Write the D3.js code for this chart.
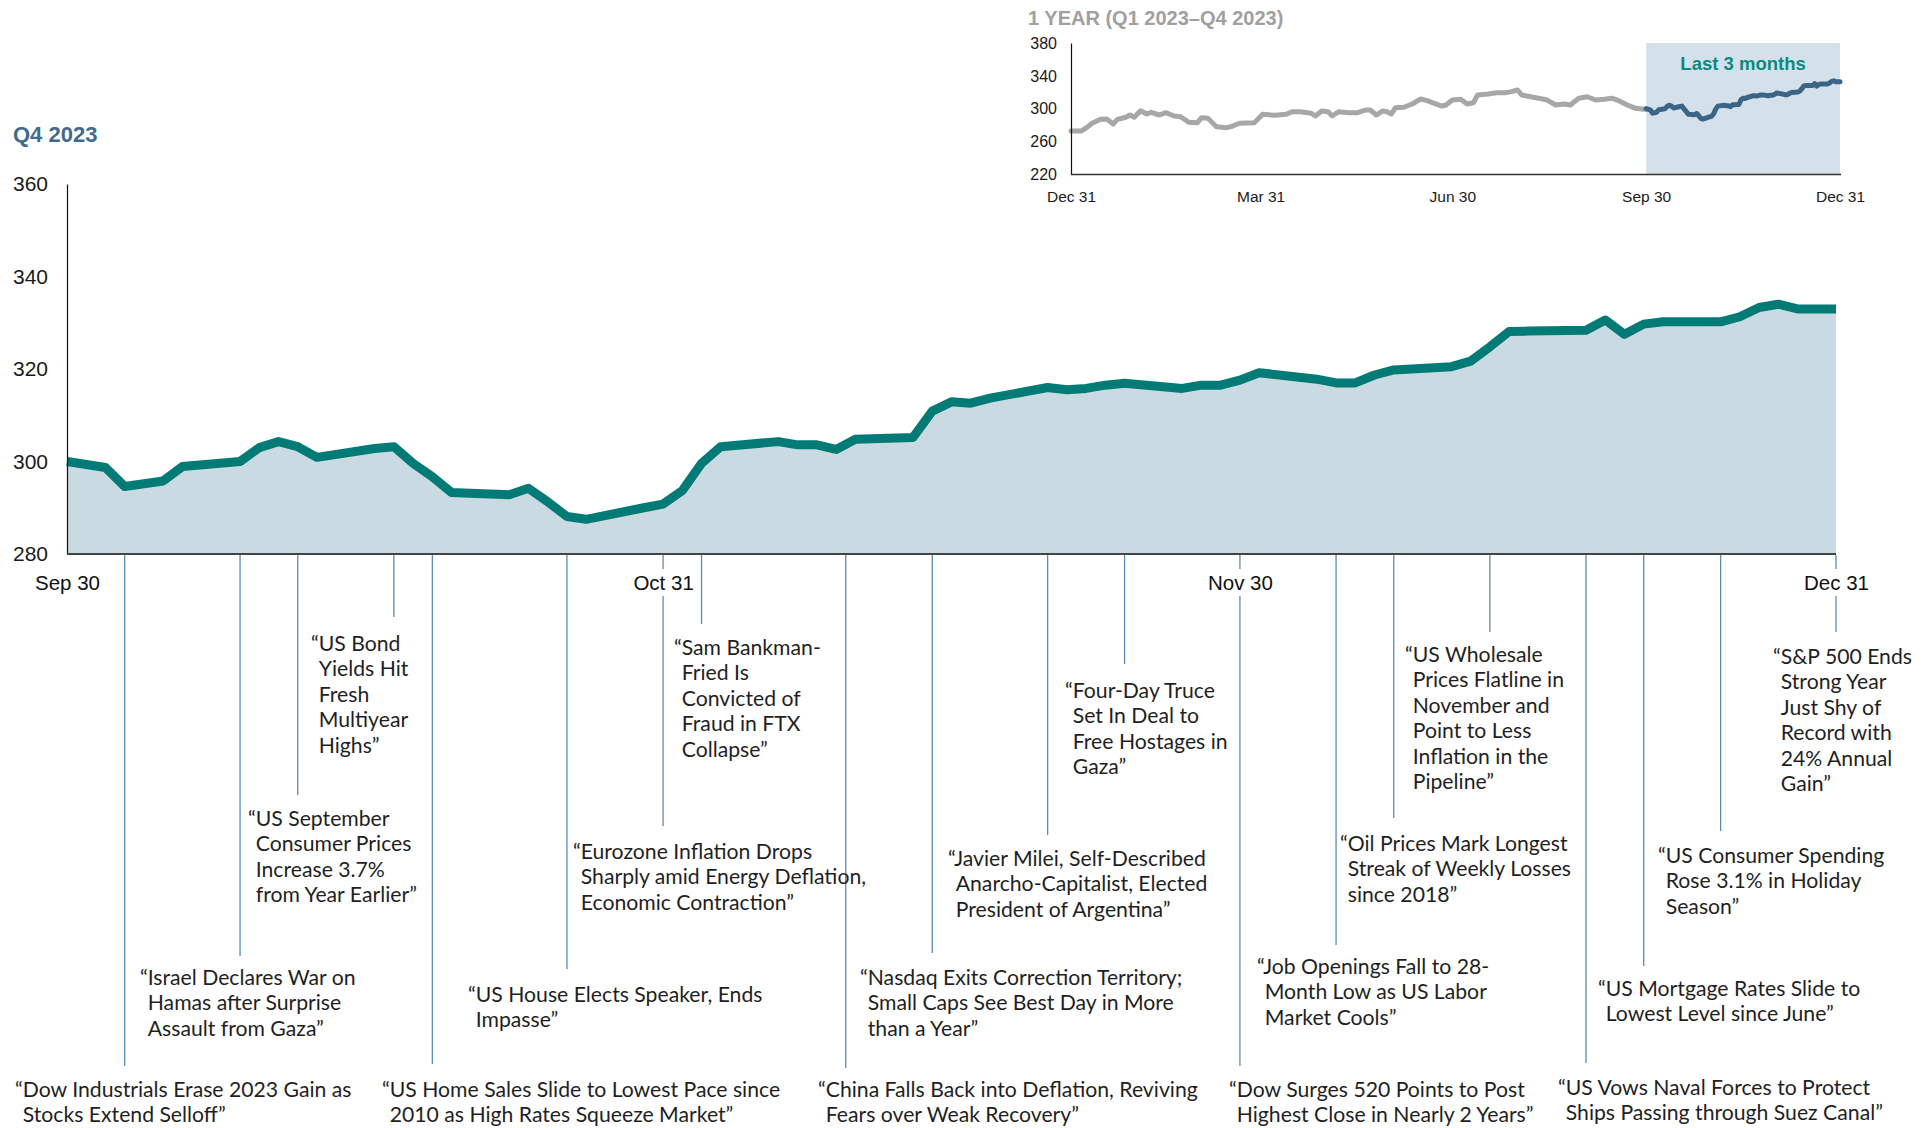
<!DOCTYPE html>
<html><head><meta charset="utf-8">
<script src="https://cdn.jsdelivr.net/npm/d3@7"></script>
<style>body{margin:0;background:#fff;} svg{display:block;}</style>
</head><body>
<svg id="c" width="1932" height="1128"></svg>
<script>
// ---------------- DATA ----------------
const q4Dates = ["2023-09-30","2023-10-02","2023-10-03","2023-10-04","2023-10-05","2023-10-06","2023-10-09","2023-10-10","2023-10-11","2023-10-12","2023-10-13","2023-10-16","2023-10-17","2023-10-18","2023-10-19","2023-10-20","2023-10-23","2023-10-24","2023-10-25","2023-10-26","2023-10-27","2023-10-30","2023-10-31","2023-11-01","2023-11-02","2023-11-03","2023-11-06","2023-11-07","2023-11-08","2023-11-09","2023-11-10","2023-11-13","2023-11-14","2023-11-15","2023-11-16","2023-11-17","2023-11-20","2023-11-21","2023-11-22","2023-11-23","2023-11-24","2023-11-27","2023-11-28","2023-11-29","2023-11-30","2023-12-01","2023-12-04","2023-12-05","2023-12-06","2023-12-07","2023-12-08","2023-12-11","2023-12-12","2023-12-13","2023-12-14","2023-12-15","2023-12-18","2023-12-19","2023-12-20","2023-12-21","2023-12-22","2023-12-25","2023-12-26","2023-12-27","2023-12-28","2023-12-29","2023-12-31"];
const q4Values = [300.0,298.7,294.6,295.2,295.8,298.9,300.0,303.0,304.3,303.2,300.9,302.8,303.2,299.6,296.7,293.3,292.8,294.2,291.3,288.1,287.5,290.0,290.8,293.7,299.6,303.2,304.3,303.6,303.6,302.6,304.8,305.2,310.9,312.9,312.6,313.7,316.0,315.5,315.8,316.5,316.9,315.8,316.5,316.5,317.6,319.2,317.8,317.0,317.0,318.7,319.8,320.5,321.7,324.8,328.1,328.2,328.4,330.6,327.5,329.7,330.2,330.2,331.3,333.3,334.0,333.0,333.0];

const yearDates = ["2022-12-31","2023-01-05","2023-01-08","2023-01-10","2023-01-14","2023-01-17","2023-01-20","2023-01-22","2023-01-26","2023-01-28","2023-01-30","2023-02-02","2023-02-05","2023-02-07","2023-02-11","2023-02-14","2023-02-18","2023-02-21","2023-02-25","2023-03-01","2023-03-03","2023-03-06","2023-03-10","2023-03-15","2023-03-17","2023-03-21","2023-03-28","2023-04-01","2023-04-07","2023-04-12","2023-04-15","2023-04-19","2023-04-24","2023-04-26","2023-04-29","2023-05-02","2023-05-04","2023-05-07","2023-05-12","2023-05-16","2023-05-20","2023-05-22","2023-05-25","2023-05-28","2023-05-30","2023-06-01","2023-06-03","2023-06-07","2023-06-11","2023-06-15","2023-06-18","2023-06-25","2023-06-27","2023-06-30","2023-07-04","2023-07-07","2023-07-10","2023-07-12","2023-07-17","2023-07-21","2023-07-25","2023-07-28","2023-07-31","2023-08-02","2023-08-06","2023-08-10","2023-08-14","2023-08-18","2023-08-22","2023-08-25","2023-08-29","2023-09-02","2023-09-06","2023-09-10","2023-09-14","2023-09-17","2023-09-21","2023-09-25","2023-09-29","2023-09-30"];
const yearValues = [272.9,272.9,278.2,282.3,287.1,287.5,281.4,287.1,289.6,292.4,289.6,297.6,293.6,295.7,292.4,295.2,291.2,290.3,283.5,283.0,289.1,288.4,278.2,277.0,278.2,282.3,283.0,293.2,292.0,293.2,296.4,296.4,294.5,291.2,297.3,296.4,291.2,296.4,295.2,295.2,298.5,298.5,292.4,297.3,296.4,293.6,301.3,301.8,305.8,311.9,309.8,303.3,304.6,310.6,311.5,305.8,307.3,316.7,317.9,319.5,319.5,320.8,322.8,316.7,314.6,312.7,310.6,304.6,305.8,304.6,312.7,314.6,310.6,311.5,312.7,309.8,304.6,300.5,299.3,300.0];

const mainYTicks = [280, 300, 320, 340, 360];
const mainXTicks = ["2023-09-30","2023-10-31","2023-11-30","2023-12-31"];
const mainXTickLabels = ["Sep 30","Oct 31","Nov 30","Dec 31"];
const insetYTicks = [220, 260, 300, 340, 380];
const insetXTicks = ["2022-12-31","2023-03-31","2023-06-30","2023-09-30","2023-12-31"];
const insetXTickLabels = ["Dec 31","Mar 31","Jun 30","Sep 30","Dec 31"];
const highlightRange = ["2023-09-30","2023-12-31"];

const eventDates = ["2023-10-03","2023-10-09","2023-10-12","2023-10-17","2023-10-19","2023-10-26","2023-10-31","2023-11-02","2023-11-09T12:00","2023-11-14","2023-11-20","2023-11-24","2023-11-30","2023-12-05","2023-12-08","2023-12-13","2023-12-18","2023-12-21","2023-12-25","2023-12-31"];
const eventHeadlines = [
  ["“Dow Industrials Erase 2023 Gain as","Stocks Extend Selloff”"],
  ["“Israel Declares War on","Hamas after Surprise","Assault from Gaza”"],
  ["“US September","Consumer Prices","Increase 3.7%","from Year Earlier”"],
  ["“US Bond","Yields Hit","Fresh","Multiyear","Highs”"],
  ["“US Home Sales Slide to Lowest Pace since","2010 as High Rates Squeeze Market”"],
  ["“US House Elects Speaker, Ends","Impasse”"],
  ["“Eurozone Inflation Drops","Sharply amid Energy Deflation,","Economic Contraction”"],
  ["“Sam Bankman-","Fried Is","Convicted of","Fraud in FTX","Collapse”"],
  ["“China Falls Back into Deflation, Reviving","Fears over Weak Recovery”"],
  ["“Nasdaq Exits Correction Territory;","Small Caps See Best Day in More","than a Year”"],
  ["“Javier Milei, Self-Described","Anarcho-Capitalist, Elected","President of Argentina”"],
  ["“Four-Day Truce","Set In Deal to","Free Hostages in","Gaza”"],
  ["“Dow Surges 520 Points to Post","Highest Close in Nearly 2 Years”"],
  ["“Job Openings Fall to 28-","Month Low as US Labor","Market Cools”"],
  ["“Oil Prices Mark Longest","Streak of Weekly Losses","since 2018”"],
  ["“US Wholesale","Prices Flatline in","November and","Point to Less","Inflation in the","Pipeline”"],
  ["“US Vows Naval Forces to Protect","Ships Passing through Suez Canal”"],
  ["“US Mortgage Rates Slide to","Lowest Level since June”"],
  ["“US Consumer Spending","Rose 3.1% in Holiday","Season”"],
  ["“S&P 500 Ends","Strong Year","Just Shy of","Record with","24% Annual","Gain”"]
];

// ---------------- LAYOUT (positions, not data) ----------------
// [label left x, first baseline y, leader bottom y]
const eventLayout = [
  [15, 1097, 1066],[140, 985, 956],[248, 826, 795],[311, 651, 617],[382, 1097, 1064],
  [468, 1002, 969],[573, 859, 826],[674, 655, 624],[818, 1097, 1068],[860, 985, 953],
  [948, 866, 835],[1065, 698, 664],[1229, 1097, 1066],[1257, 974, 945],[1340, 851, 818],
  [1405, 662, 632],[1558, 1095, 1063],[1598, 996, 966],[1658, 863, 831],[1773, 664, 632]
];
const LINE_H = 25.4;

const parse = s => new Date(s.length > 10 ? s : s + "T00:00");
const svg = d3.select("#c");
const SANS = "'Liberation Sans', Arial, sans-serif";
const LATO = "Lato, 'Open Sans', sans-serif";

// ---------------- MAIN CHART ----------------
const x = d3.scaleTime().domain([parse("2023-09-30"), parse("2023-12-31")]).range([67, 1836]);
const y = d3.scaleLinear().domain([280, 360]).range([554, 184]);
const q4 = q4Dates.map((d, i) => ({ d: parse(d), v: q4Values[i] }));

svg.append("path").datum(q4)
  .attr("d", d3.area().x(p => x(p.d)).y0(y(280)).y1(p => y(p.v)))
  .attr("fill", "#C9DAE2");

// leader lines
const leaders = svg.append("g");
eventDates.forEach((ds, i) => {
  const xx = x(parse(ds));
  leaders.append("line").attr("x1", xx).attr("x2", xx)
    .attr("y1", y(280) + 1).attr("y2", eventLayout[i][2])
    .attr("stroke", "#5A8CB1").attr("stroke-width", 1.3);
});

svg.append("path").datum(q4)
  .attr("d", d3.line().x(p => x(p.d)).y(p => y(p.v)))
  .attr("fill", "none").attr("stroke", "#027B76").attr("stroke-width", 9)
  .attr("stroke-linejoin", "round");

// axes
const yAxis = svg.append("g").attr("transform", "translate(67,0)")
  .call(d3.axisLeft(y).tickValues(mainYTicks).tickSize(0).tickPadding(19));
yAxis.select(".domain").attr("stroke", "#111").attr("stroke-width", 1.2);
yAxis.selectAll("text").attr("font-family", SANS).attr("font-size", 21).attr("fill", "#1a1a1a");

svg.append("line").attr("x1", x.range()[0]).attr("x2", x.range()[1])
  .attr("y1", y(280)).attr("y2", y(280)).attr("stroke", "#444").attr("stroke-width", 2);

const xAxis = svg.append("g").attr("transform", `translate(0,${y(280)})`)
  .call(d3.axisBottom(x).tickValues(mainXTicks.map(parse)).tickSize(0).tickPadding(0)
    .tickFormat((d, i) => mainXTickLabels[i]));
xAxis.select(".domain").remove();
xAxis.selectAll("text").attr("font-family", SANS).attr("font-size", 20.5).attr("fill", "#111")
  .attr("dy", null).attr("y", 36);
xAxis.selectAll(".tick").each(function () {
  const t = d3.select(this).select("text");
  const bb = t.node().getBBox();
  d3.select(this).insert("rect", "text").attr("x", bb.x - 3).attr("y", bb.y - 2)
    .attr("width", bb.width + 6).attr("height", bb.height + 4).attr("fill", "#fff");
});

svg.append("text").attr("x", 13).attr("y", 142).text("Q4 2023")
  .attr("font-family", SANS).attr("font-weight", "bold").attr("font-size", 22).attr("fill", "#3F6B8C");

// annotations
const tmp = svg.append("text").attr("font-family", LATO).attr("font-size", 21.2).text("“");
const quoteW = tmp.node().getComputedTextLength();
tmp.remove();
const ann = svg.append("g").attr("font-family", LATO).attr("font-size", 21.2).attr("fill", "#1f1f1f");
eventHeadlines.forEach((lines, i) => {
  const [lx, by] = eventLayout[i];
  const t = ann.append("text");
  lines.forEach((ln, j) => {
    t.append("tspan").attr("x", j === 0 ? lx : lx + quoteW).attr("y", by + j * LINE_H).text(ln);
  });
});

// ---------------- INSET ----------------
const ix = d3.scaleTime().domain([parse("2022-12-31"), parse("2023-12-31")]).range([1071, 1840]);
const iy = d3.scaleLinear().domain([220, 380]).range([174.5, 43]);

svg.append("rect").attr("x", ix(parse(highlightRange[0]))).attr("y", iy(380))
  .attr("width", ix(parse(highlightRange[1])) - ix(parse(highlightRange[0])))
  .attr("height", iy(220) - iy(380)).attr("fill", "#D4E1EA");

svg.append("text").attr("x", (ix(parse(highlightRange[0])) + ix(parse(highlightRange[1]))) / 2)
  .attr("y", 70).attr("text-anchor", "middle").text("Last 3 months")
  .attr("font-family", SANS).attr("font-weight", "bold").attr("font-size", 18.5).attr("fill", "#0B8A80");

const year = yearDates.map((d, i) => ({ d: parse(d), v: yearValues[i] }));
const iline = d3.line().x(p => ix(p.d)).y(p => iy(p.v));
svg.append("path").datum(year).attr("d", iline).attr("fill", "none")
  .attr("stroke", "#A7A7A7").attr("stroke-width", 5).attr("stroke-linejoin", "round").attr("stroke-linecap", "round");
svg.append("path").datum(q4).attr("d", iline).attr("fill", "none")
  .attr("stroke", "#3B6587").attr("stroke-width", 5).attr("stroke-linejoin", "round").attr("stroke-linecap", "round");

const iyAxis = svg.append("g").attr("transform", "translate(1071,0)")
  .call(d3.axisLeft(iy).tickValues(insetYTicks).tickSize(0).tickPadding(14));
iyAxis.select(".domain").attr("stroke", "#111").attr("stroke-width", 1.2);
iyAxis.selectAll("text").attr("font-family", SANS).attr("font-size", 16).attr("fill", "#1a1a1a");

svg.append("line").attr("x1", 1071).attr("x2", 1841).attr("y1", iy(220)).attr("y2", iy(220))
  .attr("stroke", "#333").attr("stroke-width", 1.5);

const ixAxis = svg.append("g").attr("transform", `translate(0,${iy(220)})`)
  .call(d3.axisBottom(ix).tickValues(insetXTicks.map(parse)).tickSize(0)
    .tickFormat((d, i) => insetXTickLabels[i]));
ixAxis.select(".domain").remove();
ixAxis.selectAll("text").attr("font-family", SANS).attr("font-size", 15.5).attr("fill", "#1a1a1a")
  .attr("dy", null).attr("y", 27);

svg.append("text").attr("x", 1028).attr("y", 25).text("1 YEAR (Q1 2023–Q4 2023)")
  .attr("font-family", SANS).attr("font-weight", "bold").attr("font-size", 20).attr("fill", "#A0A0A0");
</script>
</body></html>
